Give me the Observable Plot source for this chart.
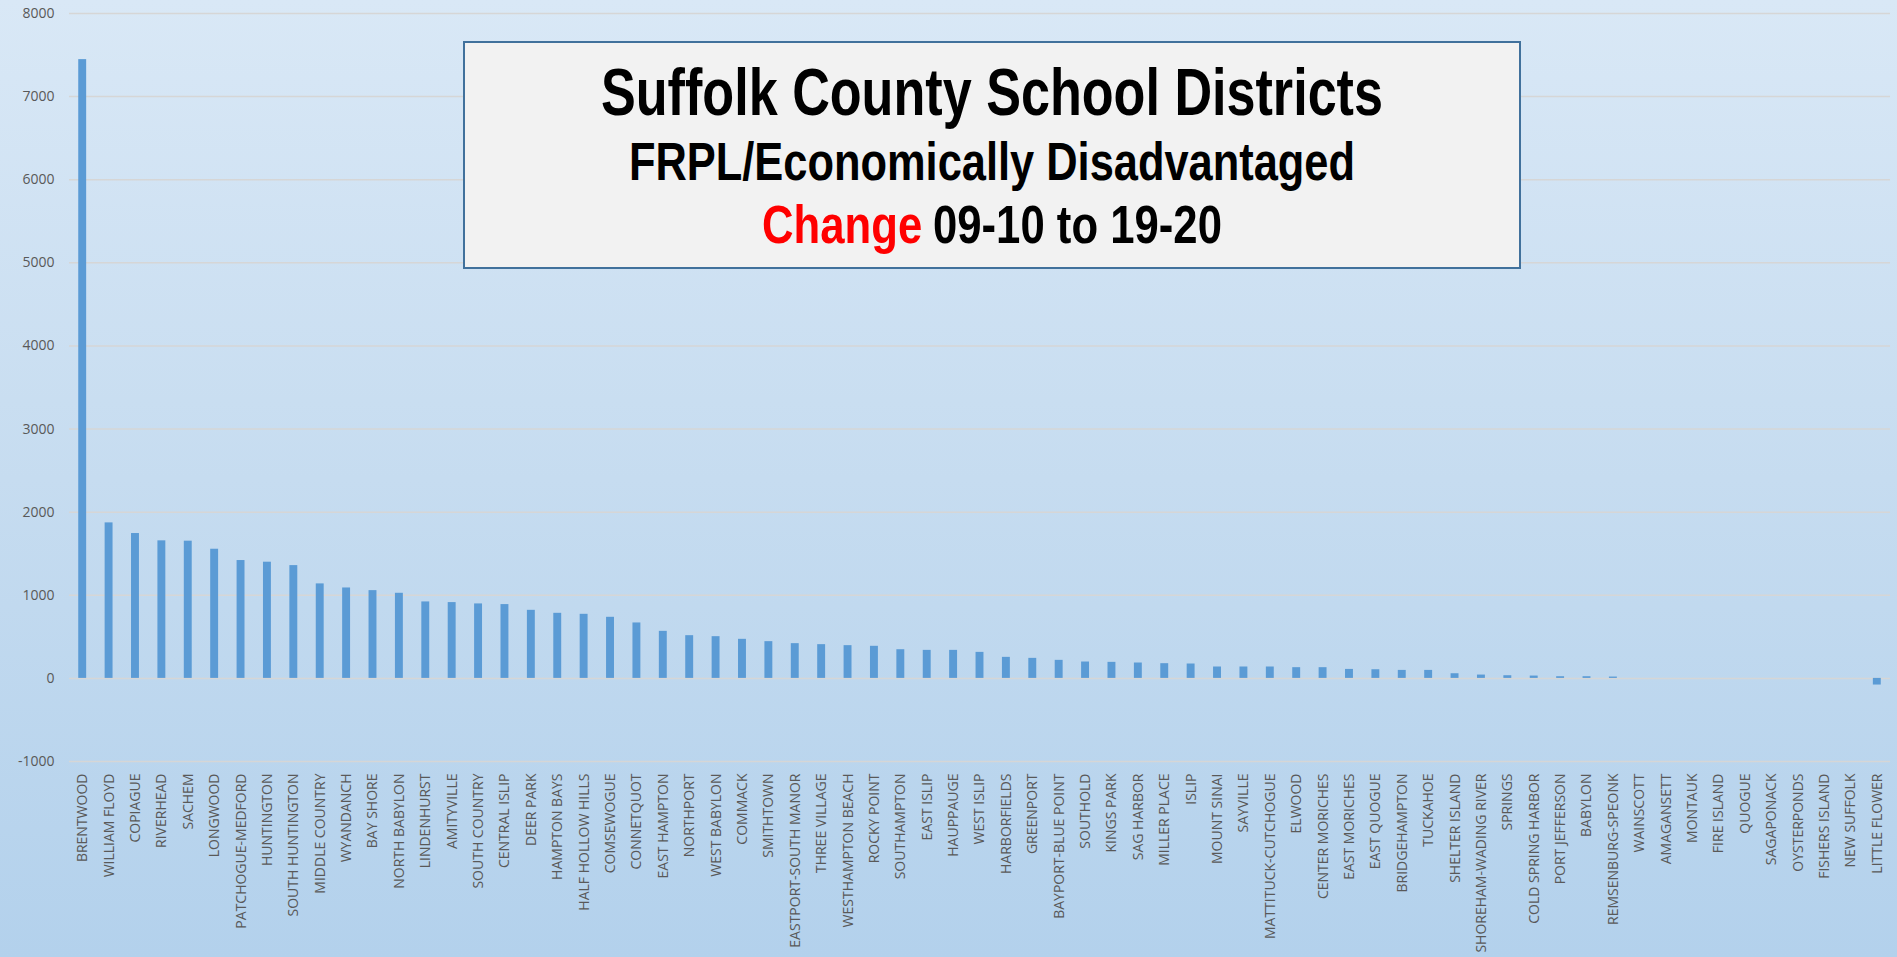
<!DOCTYPE html>
<html>
<head>
<meta charset="utf-8">
<script src="https://cdn.jsdelivr.net/npm/d3@7"></script>
<script src="https://cdn.jsdelivr.net/npm/@observablehq/plot@0.6"></script>
<style>
  html, body { margin: 0; padding: 0; overflow: hidden; }
  body {
    width: 1897px; height: 957px; position: relative;
    background: linear-gradient(to bottom, #d9e8f6 0%, #c6dcf0 50%, #b3d1ec 100%);
  }
  #chart svg { display: block; }
  #titlebox { position: absolute; left: 463px; top: 41px; overflow: visible; }
</style>
</head>
<body>
<div id="chart"></div>
<svg id="titlebox" width="1060" height="230"></svg>
<script>
const districts = [
  "BRENTWOOD","WILLIAM FLOYD","COPIAGUE","RIVERHEAD","SACHEM","LONGWOOD","PATCHOGUE-MEDFORD",
  "HUNTINGTON","SOUTH HUNTINGTON","MIDDLE COUNTRY","WYANDANCH","BAY SHORE","NORTH BABYLON",
  "LINDENHURST","AMITYVILLE","SOUTH COUNTRY","CENTRAL ISLIP","DEER PARK","HAMPTON BAYS",
  "HALF HOLLOW HILLS","COMSEWOGUE","CONNETQUOT","EAST HAMPTON","NORTHPORT","WEST BABYLON",
  "COMMACK","SMITHTOWN","EASTPORT-SOUTH MANOR","THREE VILLAGE","WESTHAMPTON BEACH","ROCKY POINT",
  "SOUTHAMPTON","EAST ISLIP","HAUPPAUGE","WEST ISLIP","HARBORFIELDS","GREENPORT",
  "BAYPORT-BLUE POINT","SOUTHOLD","KINGS PARK","SAG HARBOR","MILLER PLACE","ISLIP","MOUNT SINAI",
  "SAYVILLE","MATTITUCK-CUTCHOGUE","ELWOOD","CENTER MORICHES","EAST MORICHES","EAST QUOGUE",
  "BRIDGEHAMPTON","TUCKAHOE","SHELTER ISLAND","SHOREHAM-WADING RIVER","SPRINGS",
  "COLD SPRING HARBOR","PORT JEFFERSON","BABYLON","REMSENBURG-SPEONK","WAINSCOTT","AMAGANSETT",
  "MONTAUK","FIRE ISLAND","QUOGUE","SAGAPONACK","OYSTERPONDS","FISHERS ISLAND","NEW SUFFOLK",
  "LITTLE FLOWER"
];
const changes = [
  7445, 1871, 1743, 1655, 1651, 1554, 1418,
  1398, 1357, 1137, 1088, 1056, 1024,
  920, 912, 896, 888, 819, 783,
  771, 735, 667, 566, 514, 502,
  470, 442, 418, 406, 394, 386,
  345, 337, 337, 313, 253, 241,
  217, 197, 193, 185, 177, 173, 137,
  137, 137, 129, 129, 108, 104,
  96, 96, 56, 40, 32,
  28, 20, 20, 16, 0, 0,
  0, 0, 0, 0, 0, 0, 0,
  -80
];
const yTicks = [-1000, 0, 1000, 2000, 3000, 4000, 5000, 6000, 7000, 8000];
const titleLine1 = "Suffolk County School Districts";
const titleLine2 = "FRPL/Economically Disadvantaged";
const titleLine3a = "Change";
const titleLine3b = "09-10 to 19-20";

const data = districts.map((d, i) => ({district: d, value: changes[i]}));

const chart = Plot.plot({
  width: 1897,
  height: 957,
  marginLeft: 69,
  marginRight: 7,
  marginTop: 13,
  marginBottom: 196,
  style: {background: "transparent", fontFamily: "'Open Sans', sans-serif", overflow: "visible"},
  x: {domain: districts, paddingInner: 0.7, paddingOuter: 0.35, round: false, label: null},
  y: {domain: [-1000, 8000], label: null},
  marks: [
    Plot.gridY(yTicks, {stroke: "#d6d6d6", strokeOpacity: 1, strokeWidth: 1.5}),
    Plot.barY(data, {x: "district", y: "value", fill: "#5b9bd5"}),
    Plot.axisY({ticks: yTicks, tickSize: 0, tickPadding: 15, fontSize: 14, fill: "#595959",
      tickFormat: d => String(d), label: null}),
    Plot.axisX({anchor: "bottom", tickRotate: -90, tickSize: 0, tickPadding: 12, fontSize: 14,
      fill: "#595959", label: null})
  ]
});
document.getElementById("chart").appendChild(chart);

// Title box
const tb = d3.select("#titlebox");
tb.append("rect").attr("x", 1).attr("y", 1).attr("width", 1056).attr("height", 226)
  .attr("fill", "#f2f2f2").attr("stroke", "#41719c").attr("stroke-width", 2);
const cx = 992 - 463;
const font = "'Liberation Sans Narrow', 'Arial Narrow', 'Liberation Sans', Arial, sans-serif";

// parts: [{text, fill}], fitted to a target width centred at cx
function titleLine(parts, size, baseline, target, gap) {
  const g = tb.append("g");
  let x = 0;
  parts.forEach((p, i) => {
    const t = g.append("text").attr("x", x).attr("y", 0)
      .attr("font-family", font).attr("font-weight", "bold").attr("font-size", size)
      .attr("fill", p.fill).text(p.text);
    x += t.node().getComputedTextLength() + (i < parts.length - 1 ? gap : 0);
  });
  const s = target / x;
  g.attr("transform", `translate(${cx - target / 2},${baseline - 41}) scale(${s},1)`);
}
titleLine([{text: titleLine1, fill: "#000"}], 66, 115, 782, 0);
titleLine([{text: titleLine2, fill: "#000"}], 53, 180, 726, 0);
titleLine([{text: titleLine3a, fill: "#ff0000"}, {text: titleLine3b, fill: "#000"}], 53, 243, 460, 13);
</script>
</body>
</html>
